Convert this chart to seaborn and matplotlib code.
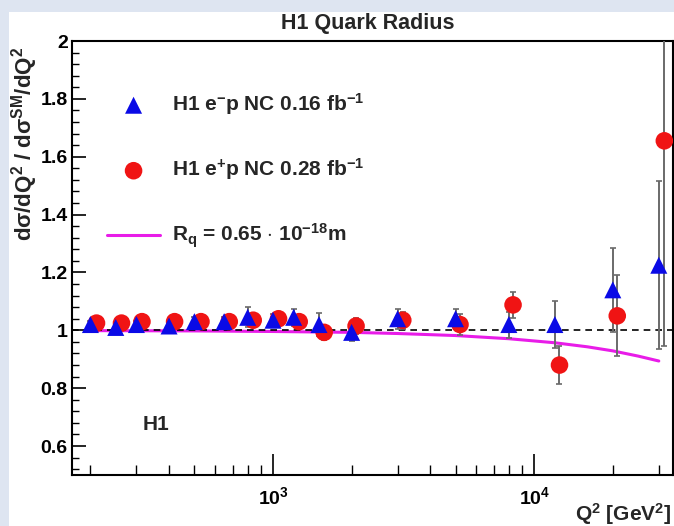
import numpy as np
import pandas as pd
import seaborn as sns
import matplotlib
matplotlib.use("Agg")
import matplotlib.pyplot as plt
from matplotlib.patches import Rectangle
from matplotlib.ticker import LogLocator, FixedLocator, MultipleLocator, NullFormatter, FuncFormatter

# H1 e-p NC 0.16 fb-1
q2_em = [200, 250, 300, 400, 500, 650, 800, 1000, 1200, 1500, 2000, 3000, 5000, 8000, 12000, 20000, 30000]
ratio_em = [1.02, 1.01, 1.02, 1.015, 1.03, 1.03, 1.045, 1.035, 1.045, 1.02, 0.993, 1.04, 1.04, 1.02, 1.02, 1.14, 1.225]
err_em = [0.012, 0.012, 0.012, 0.013, 0.015, 0.017, 0.035, 0.02, 0.03, 0.04, 0.03, 0.035, 0.035, 0.045, 0.08, 0.145, 0.29]

# H1 e+p NC 0.28 fb-1
q2_ep = [211, 263, 315, 420, 530, 680, 840, 1050, 1260, 1570, 2080, 3140, 5200, 8300, 12500, 20800, 31500]
ratio_ep = [1.025, 1.025, 1.03, 1.03, 1.03, 1.03, 1.035, 1.04, 1.03, 0.993, 1.015, 1.035, 1.02, 1.088, 0.88, 1.05, 1.655]
err_ep = [0.01, 0.01, 0.01, 0.012, 0.013, 0.015, 0.018, 0.02, 0.022, 0.025, 0.028, 0.03, 0.035, 0.045, 0.065, 0.14, 0.71]

# quark radius curve, Rq = 0.65e-18 m
q2_rq = [200, 500, 1000, 2000, 3000, 5000, 8000, 12000, 16000, 20000, 25000, 30000]
ratio_rq = [0.999, 0.998, 0.996, 0.993, 0.989, 0.982, 0.971, 0.957, 0.943, 0.929, 0.911, 0.894]

df_em = pd.DataFrame({"q2": q2_em, "ratio": ratio_em})
df_ep = pd.DataFrame({"q2": q2_ep, "ratio": ratio_ep})
df_rq = pd.DataFrame({"q2": q2_rq, "ratio": ratio_rq})

sns.set_theme(style="white")
plt.rcParams["font.family"] = ["Liberation Sans", "DejaVu Sans"]
plt.rcParams["font.weight"] = "bold"
plt.rcParams["mathtext.fontset"] = "custom"
plt.rcParams["mathtext.rm"] = "Liberation Sans:bold"
plt.rcParams["mathtext.it"] = "Liberation Sans:bold"
plt.rcParams["mathtext.bf"] = "Liberation Sans:bold"
plt.rcParams["mathtext.sf"] = "Liberation Sans:bold"
plt.rcParams["mathtext.default"] = "rm"

W, H = 674, 526
fig = plt.figure(figsize=(W / 100, H / 100), dpi=100, facecolor="#dee5f1")
fig.patches.append(Rectangle((9 / W, 0), 1, (H - 12) / H, transform=fig.transFigure,
                             facecolor="white", edgecolor="none", zorder=-10))
ax = fig.add_axes([72 / W, 1 - 475 / H, (673 - 72) / W, (475 - 41) / H])
ax.set_facecolor("white")

blue = "#0a0ae6"
red = "#f01414"
magenta = "#e81ce8"

sns.lineplot(data=df_rq, x="q2", y="ratio", ax=ax, color=magenta, lw=2.2, zorder=2,
             label=r"R$_{q}$ = 0.65 $\cdot$ 10$^{-18}$m")
ax.axhline(1.0, color="black", lw=1.2, ls=(0, (4, 3)), zorder=3)

ax.errorbar(q2_ep, ratio_ep, yerr=err_ep, fmt="none", ecolor="#6a6a6a", elinewidth=1.4,
            capsize=2, capthick=1.2, zorder=4)
ax.errorbar(q2_em, ratio_em, yerr=err_em, fmt="none", ecolor="#6a6a6a", elinewidth=1.4,
            capsize=2, capthick=1.2, zorder=4)

sns.scatterplot(data=df_ep, x="q2", y="ratio", ax=ax, marker="o", s=160, color=red,
                edgecolor="none", zorder=5, label=r"H1 e$^{+}$p NC 0.28 fb$^{-1}$")
sns.scatterplot(data=df_em, x="q2", y="ratio", ax=ax, marker="^", s=150, color=blue,
                edgecolor="none", zorder=6, label=r"H1 e$^{-}$p NC 0.16 fb$^{-1}$")

ax.set_xscale("log")
ax.set_xlim(170, 34000)
ax.set_ylim(0.5, 2.0)

ax.xaxis.set_major_locator(FixedLocator([1e3, 1e4]))
ax.xaxis.set_major_formatter(FuncFormatter(lambda v, p: r"$10^{%d}$" % round(np.log10(v))))
ax.xaxis.set_minor_locator(LogLocator(base=10, subs=np.arange(2, 10)))
ax.xaxis.set_minor_formatter(NullFormatter())
ax.yaxis.set_major_locator(MultipleLocator(0.2))
ax.yaxis.set_minor_locator(MultipleLocator(0.04))
ax.yaxis.set_major_formatter(FuncFormatter(lambda v, p: ("%g" % round(v, 2))))

ax.tick_params(axis="both", which="both", direction="in", colors="black", labelsize=14,
               top=False, right=False, left=True, bottom=True)
ax.tick_params(axis="y", which="major", length=10, width=1.2, pad=3)
ax.tick_params(axis="y", which="minor", length=5, width=1.0)
ax.tick_params(axis="x", which="major", length=15, width=1.2, pad=8)
ax.tick_params(axis="x", which="minor", length=7, width=1.0)
for lab in ax.get_yticklabels():
    lab.set_fontweight("bold")

for sp in ax.spines.values():
    sp.set_color("black")
    sp.set_linewidth(1.5)

ax.set_xlabel(r"Q$^{2}$ [GeV$^{2}$]", fontsize=15, fontweight="bold")
ax.xaxis.set_label_coords((671 - 72) / 601, (475 - 514) / 434)
ax.xaxis.label.set_horizontalalignment("right")
ax.xaxis.label.set_verticalalignment("center")
ax.set_ylabel(r"d$\sigma$/dQ$^{2}$ / d$\sigma^{SM}$/dQ$^{2}$", fontsize=16, fontweight="bold")
ax.yaxis.set_label_coords((25 - 72) / 601, (475 - 47) / 434)
ax.yaxis.label.set_verticalalignment("center")
ax.yaxis.label.set_horizontalalignment("right")

fig.text(368 / W, 1 - 23 / H, "H1 Quark Radius", ha="center", va="center",
         fontsize=15.5, fontweight="bold")
ax.text((156 - 72) / 601, (475 - 425) / 434, "H1", transform=ax.transAxes,
        fontsize=15, fontweight="bold", ha="center", va="center")

handles, labels = ax.get_legend_handles_labels()
order = [2, 1, 0]
ax.legend([handles[i] for i in order], [labels[i] for i in order], loc="upper left",
          bbox_to_anchor=((107 - 72) / 601, (475 - 91) / 434), frameon=False,
          borderpad=0, borderaxespad=0, fontsize=15, labelspacing=1.9,
          handlelength=2.55, handletextpad=0.55, markerscale=1.0)

fig.savefig("out.png", dpi=100, facecolor=fig.get_facecolor())
